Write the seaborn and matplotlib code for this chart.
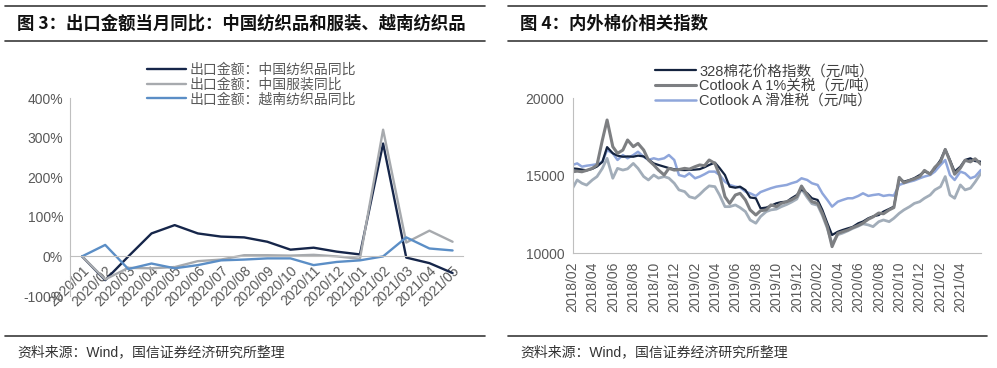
import numpy as np
import pandas as pd
import seaborn as sns
import matplotlib.pyplot as plt
import matplotlib.dates as mdates
from matplotlib.lines import Line2D

# ---- data: left panel (monthly YoY, %) ----
months = ['2020/01', '2020/02', '2020/03', '2020/04', '2020/05', '2020/06',
          '2020/07', '2020/08', '2020/09', '2020/10', '2020/11', '2020/12',
          '2021/01', '2021/02', '2021/03', '2021/04', '2021/05']
cn_textile = [0, -60, 0, 58, 79, 58, 50, 48, 37, 17, 22, 12, 5, 285, -3, -17, -42]
cn_apparel = [0, -58, -29, -30, -27, -12, -8, 3, 3, 2, 4, 0, -6, 320, 35, 65, 37]
vn_textile = [0, 29, -32, -18, -30, -22, -10, -8, -5, -5, -22, -14, -10, 0, 48, 20, 15]
left_names = ['出口金额：中国纺织品同比', '出口金额：中国服装同比', '出口金额：越南纺织品同比']

# ---- data: right panel (semi-monthly, yuan/ton) ----
dates = pd.date_range('2018-02-01', periods=81, freq='SMS')
idx_328 = [15480, 15450, 15400, 15350, 15450, 15600, 15900, 16850, 16450, 16300,
           16230, 16250, 16230, 16300, 16250, 16050, 15800, 15700, 15590, 15500,
           15420, 15380, 15370, 15380, 15400, 15430, 15550, 15700, 15850, 15500,
           15050, 14300, 14230, 14300, 14080, 13600, 13550, 12900, 12950, 13070,
           13225, 13300, 13330, 13550, 13760, 14130, 13870, 13550, 13440, 12800,
           11935, 11180, 11390, 11500, 11610, 11700, 11935, 12050, 12260, 12380,
           12470, 12690, 12860, 13010, 14840, 14620, 14730, 14850, 15050, 15270,
           15160, 15480, 16020, 16710, 16020, 15270, 15590, 16020, 16130, 15950,
           15910]
cotlook_1pct = [15260, 15300, 15260, 15350, 15480, 15700, 17310, 18600, 16880, 16450,
                16660, 17310, 16880, 17090, 16660, 16020, 15700, 15370, 15050, 15480,
                15370, 15400, 15480, 15430, 15590, 15700, 15650, 16020, 15800, 15050,
                13650, 13220, 13760, 13870, 13440, 12800, 12470, 12750, 12800, 13120,
                13010, 13220, 13330, 13450, 13650, 14340, 13760, 13330, 13220, 12580,
                11720, 10430, 11290, 11390, 11500, 11650, 11800, 11950, 12200, 12350,
                12600, 12550, 12800, 12950, 14900, 14550, 14700, 14800, 14950, 15350,
                15100, 15550, 15900, 16700, 15950, 15100, 15500, 16000, 15900, 16100,
                15750]
cotlook_sliding = [15700, 15800, 15590, 15650, 15700, 15750, 15900, 16660, 16450, 16020,
                   16340, 16130, 16340, 16550, 16230, 16020, 16130, 16050, 16130, 16340,
                   16020, 15050, 14950, 15160, 14840, 14950, 15100, 15270, 15270, 15050,
                   14620, 14410, 14300, 14250, 13980, 13870, 13700, 13950, 14090, 14200,
                   14300, 14350, 14410, 14520, 14620, 14840, 14730, 14520, 14410, 13870,
                   13440, 13010, 13330, 13440, 13550, 13550, 13700, 13870, 13700, 13760,
                   13810, 13700, 13760, 13720, 14410, 14520, 14620, 14700, 14840, 14950,
                   15050, 15270, 15700, 16020, 15050, 14730, 15270, 15160, 14840, 14950,
                   15370]
cotlook_other = [14190, 14730, 14520, 14400, 14730, 14950, 15480, 16130, 14840, 15480,
                 15370, 15450, 15800, 15480, 14950, 14730, 15050, 14850, 14950, 14850,
                 14520, 14090, 13980, 13650, 13550, 13800, 14100, 14350, 14300, 13760,
                 13010, 13010, 13120, 12950, 12690, 12150, 11940, 12370, 12690, 12800,
                 12850, 13000, 13150, 13300, 13500, 14150, 13600, 13200, 13100, 12450,
                 11600, 10600, 11200, 11300, 11450, 11600, 11750, 11900, 11830, 11720,
                 12040, 12150, 12040, 12260, 12580, 12800, 13010, 13220, 13330, 13550,
                 13760, 14090, 14300, 14950, 13760, 13550, 14410, 14090, 14200, 14600,
                 15160]
right_names = ['328棉花价格指数（元/吨）', 'Cotlook A 1%关税（元/吨）', 'Cotlook A 滑准税（元/吨）']

sns.set_style('white')
plt.rcParams['font.family'] = ['Liberation Sans', 'Noto Sans CJK SC', 'DejaVu Sans']
CJK = ['Noto Sans CJK SC', 'DejaVu Sans']
TICK = '#595959'
SPINE = '#bfbfbf'

fig = plt.figure(figsize=(9.97, 3.68), dpi=100)

# ---- frame: rules, titles, sources ----
for x0, x1 in [(5 / 997, 485 / 997), (508 / 997, 987 / 997)]:
    for y in [1 - 6 / 368, 1 - 41 / 368, 1 - 336 / 368]:
        fig.add_artist(Line2D([x0, x1], [y, y], transform=fig.transFigure,
                              color='#3a3a3a', lw=1.2))
fig.text(17 / 997, 1 - 24 / 368, '图 3：出口金额当月同比：中国纺织品和服装、越南纺织品',
         fontsize=12.5, fontweight='bold', va='center', ha='left', family=CJK, color='#111111')
fig.text(520 / 997, 1 - 24 / 368, '图 4：内外棉价相关指数',
         fontsize=12.5, fontweight='bold', va='center', ha='left', family=CJK, color='#111111')
for xs in [17 / 997, 520 / 997]:
    fig.text(xs, 1 - 352 / 368, '资料来源：Wind，国信证券经济研究所整理',
             fontsize=10, va='center', ha='left', color='#333333')

# ---- left panel ----
axl = fig.add_axes([70 / 997, 1 - 296 / 368, 393 / 997, 198 / 368])
left_df = pd.DataFrame({
    'pos': np.tile(np.arange(len(months)), 3),
    'val': cn_textile + cn_apparel + vn_textile,
    'series': np.repeat(left_names, len(months)),
})
sns.lineplot(data=left_df, x='pos', y='val', hue='series', hue_order=left_names,
             palette=['#16264a', '#a7aaae', '#5b8ec6'], linewidth=1.7, ax=axl)
# move the x axis to the 0% line first (this resets the ticks)
axl.spines['bottom'].set_position(('data', 0))
axl.set_xlim(-0.52, 16.45)
axl.set_ylim(-100, 400)
axl.set_yticks([-100, 0, 100, 200, 300, 400])
axl.set_yticklabels([f'{v}%' for v in [-100, 0, 100, 200, 300, 400]])
axl.set_xticks(np.arange(len(months)))
axl.set_xticklabels(months, rotation=45, ha='right', rotation_mode='anchor')
for s in ['top', 'right']:
    axl.spines[s].set_visible(False)
for s in ['left', 'bottom']:
    axl.spines[s].set_color(SPINE)
axl.tick_params(axis='both', colors=SPINE, labelcolor=TICK, labelsize=10,
                length=3, width=0.8, direction='out', pad=2)
axl.set_xlabel('')
axl.set_ylabel('')
axl.legend(loc='upper left', bbox_to_anchor=(140 / 997, 1 - 56 / 368),
           bbox_transform=fig.transFigure, frameon=False, handlelength=2.8,
           handletextpad=0.3, labelspacing=0.05, borderpad=0,
           prop={'family': CJK, 'size': 10}, labelcolor=TICK)

# ---- right panel ----
axr = fig.add_axes([572.5 / 997, 1 - 253.3 / 368, 408 / 997, 155 / 368])
right_series = [
    ('other', cotlook_other, '#a2adb9', 2.0),
    (right_names[2], cotlook_sliding, '#8fa6db', 1.8),
    (right_names[0], idx_328, '#14233f', 1.6),
    (right_names[1], cotlook_1pct, '#7d7f82', 2.2),
]
for name, vals, col, lw in right_series:
    df = pd.DataFrame({'date': dates, 'val': vals})
    sns.lineplot(data=df, x='date', y='val', color=col, linewidth=lw,
                 label=None if name == 'other' else name, legend=False, ax=axr)
axr.set_xlim(pd.Timestamp('2018-02-01'), pd.Timestamp('2021-05-31'))
axr.set_ylim(10000, 20000)
axr.set_yticks([10000, 15000, 20000])
axr.xaxis.set_major_locator(mdates.MonthLocator(bymonth=[2, 4, 6, 8, 10, 12]))
axr.xaxis.set_major_formatter(mdates.DateFormatter('%Y/%m'))
for lab in axr.get_xticklabels():
    lab.set_rotation(90)
for s in ['top', 'right']:
    axr.spines[s].set_visible(False)
for s in ['left', 'bottom']:
    axr.spines[s].set_color(SPINE)
axr.tick_params(axis='both', colors=SPINE, labelcolor=TICK, labelsize=10,
                length=3, width=0.8, direction='out', pad=3)
axr.set_xlabel('')
axr.set_ylabel('')
handles = {l.get_label(): l for l in axr.get_lines()}
axr.legend([handles[n] for n in right_names], right_names,
           loc='upper left', bbox_to_anchor=(648 / 997, 1 - 57 / 368),
           bbox_transform=fig.transFigure, frameon=False, handlelength=2.8,
           handletextpad=0.2, labelspacing=0.05, borderpad=0,
           prop={'family': ['Liberation Sans', 'Noto Sans CJK SC'], 'size': 10.5},
           labelcolor='#404040')

fig.savefig('out.png', dpi=100)
